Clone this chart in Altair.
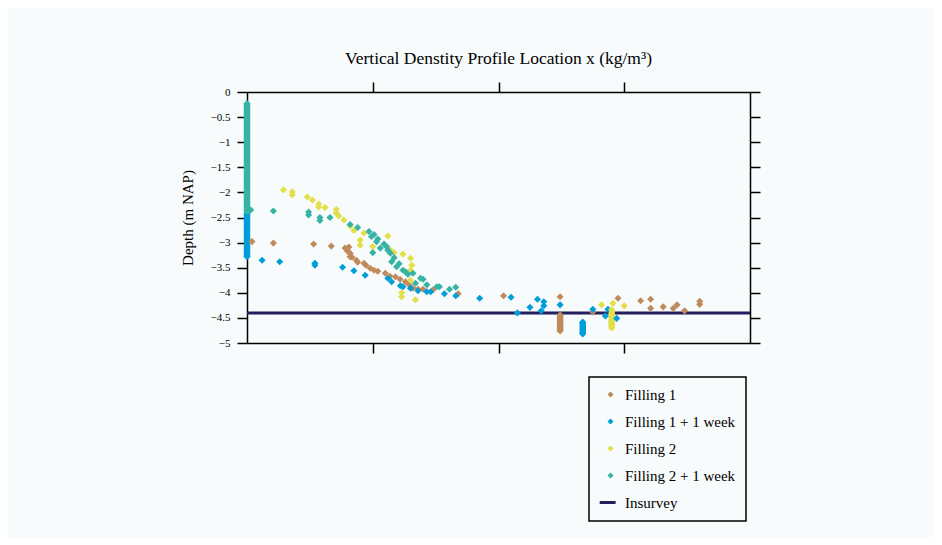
import altair as alt
import pandas as pd

SERIES = ["Filling 1", "Filling 1 + 1 week", "Filling 2", "Filling 2 + 1 week", "Insurvey"]
COLORS = ["#c08b5c", "#009ed8", "#e3df48", "#35b3a4", "#241d5e"]

# Filling 1 (brown)
f1_x = [0.04, 0.21, 0.53, 0.67, 0.78, 0.81, 0.80, 0.82, 0.835, 0.82, 0.87, 0.88, 0.93, 0.946, 0.98,
        1.01, 1.04, 1.10, 1.137, 1.18, 1.217, 1.26, 1.29, 1.32, 1.36, 1.40, 1.48, 1.68, 2.04, 2.49,
        2.75, 2.95, 3.13, 3.21, 3.21, 3.31, 3.39, 3.42, 3.48, 3.60, 3.60]
f1_y = [-2.98, -3.01, -3.03, -3.07, -3.11, -3.09, -3.17, -3.21, -3.29, -3.28, -3.35, -3.39, -3.41, -3.45, -3.51,
        -3.55, -3.57, -3.61, -3.67, -3.68, -3.73, -3.78, -3.84, -3.91, -3.93, -3.93, -3.94, -4.02, -4.06, -4.08,
        -4.38, -4.11, -4.16, -4.13, -4.31, -4.28, -4.31, -4.24, -4.36, -4.17, -4.23]

# Filling 1 + 1 week (blue)
f1w_x = [0.12, 0.26, 0.54, 0.54, 0.76, 0.85, 0.94, 1.12, 1.15, 1.22, 1.24, 1.30, 1.36, 1.43, 1.46,
         1.57, 1.66, 1.85, 2.10, 2.15, 2.25, 2.31, 2.36, 2.36, 2.34, 2.49, 2.75, 2.85, 2.87, 2.94]
f1w_y = [-3.35, -3.38, -3.41, -3.45, -3.49, -3.56, -3.65, -3.71, -3.78, -3.86, -3.88, -3.91, -3.96, -3.98, -3.98,
         -4.02, -4.06, -4.11, -4.09, -4.40, -4.29, -4.13, -4.18, -4.26, -4.36, -4.24, -4.33, -4.46, -4.33, -4.51]

# Filling 2 (yellow)
f2_x = [0.29, 0.36, 0.36, 0.48, 0.52, 0.57, 0.57, 0.62, 0.71, 0.71, 0.73, 0.77, 0.82, 0.85, 0.90, 0.90,
        0.93, 1.12, 1.00, 1.14, 1.17, 1.24, 1.30, 1.31, 1.30, 1.30, 1.23, 1.23, 1.34, 2.82, 2.91, 3.00]
f2_y = [-1.95, -1.99, -2.05, -2.09, -2.15, -2.23, -2.29, -2.30, -2.34, -2.41, -2.47, -2.55, -2.67, -2.76, -2.95, -3.05,
        -2.81, -2.87, -3.08, -3.15, -3.20, -3.23, -3.31, -3.45, -3.55, -3.75, -4.00, -4.08, -4.14, -4.24, -4.21, -4.26]

# Filling 2 + 1 week (teal)
f2w_x = [0.03, 0.21, 0.49, 0.49, 0.58, 0.58, 0.66, 0.82, 0.88, 0.97, 1.01, 0.99, 1.04, 1.03, 1.09, 1.06,
         1.11, 1.00, 1.12, 1.14, 1.17, 1.15, 1.19, 1.21, 1.24, 1.26, 1.28, 1.32, 1.38, 1.40, 1.34, 1.43,
         1.51, 1.53, 1.61, 1.66]
f2w_y = [-2.35, -2.37, -2.39, -2.45, -2.50, -2.56, -2.50, -2.64, -2.70, -2.78, -2.84, -2.88, -2.93, -2.98, -3.03, -3.11,
         -3.08, -3.20, -3.15, -3.21, -3.30, -3.38, -3.48, -3.42, -3.55, -3.58, -3.63, -3.61, -3.71, -3.73, -3.81, -3.84,
         -3.88, -3.88, -3.93, -3.89]

# dense vertical profiles (continuous stacks of measurements)
bar_series = ["Filling 1", "Filling 1 + 1 week", "Filling 1 + 1 week", "Filling 2", "Filling 2 + 1 week"]
bar_x = [2.49, 0.0, 2.67, 2.90, 0.0]
bar_top = [-4.44, -2.42, -4.58, -4.34, -0.23]
bar_bottom = [-4.76, -3.28, -4.82, -4.70, -2.38]

insurvey_depth = -4.40
x_range = [0, 4]
y_range = [-5, 0]
y_ticks = [0, -0.5, -1, -1.5, -2, -2.5, -3, -3.5, -4, -4.5, -5]
x_ticks = [1, 2, 3]

FONT = "Liberation Serif"
BG = "#f7fbfb"
LINE_PATH = "M-3.6,-0.5L1.7,-0.5L1.7,0.5L-3.6,0.5Z"

rows = []
for name, xs_, ys_ in [(SERIES[0], f1_x, f1_y), (SERIES[1], f1w_x, f1w_y),
                       (SERIES[2], f2_x, f2_y), (SERIES[3], f2w_x, f2w_y)]:
    for xv, yv in zip(xs_, ys_):
        rows.append({"series": name, "x": xv, "y": yv})
for s, xv, t, b in zip(bar_series, bar_x, bar_top, bar_bottom):
    rows.append({"series": s, "x": xv, "y": t})
    rows.append({"series": s, "x": xv, "y": b})
pts = pd.DataFrame(rows)
pts["ord"] = pts["series"].map(SERIES.index)
pts = pts.sort_values("ord", kind="stable").reset_index(drop=True)

bars = pd.DataFrame({"series": bar_series, "x": bar_x, "y1": bar_top, "y2": bar_bottom})
bars["ord"] = bars["series"].map(SERIES.index)
bars = bars.sort_values("ord", kind="stable").reset_index(drop=True)

line_df = pd.DataFrame({"x0": [x_range[0]], "x1": [x_range[1]], "y": [insurvey_depth]})

xs = alt.Scale(domain=x_range, nice=False, zero=False)
ys = alt.Scale(domain=y_range, nice=False, zero=False)
color_scale = alt.Scale(domain=SERIES, range=COLORS)
shape_scale = alt.Scale(domain=SERIES, range=["diamond"] * 4 + [LINE_PATH])

legend = alt.Legend(title=None, orient="none", legendX=342, legendY=285,
                    strokeColor="black", padding=10, rowPadding=11, symbolSize=36,
                    symbolStrokeWidth=0, symbolOffset=4, labelOffset=7,
                    labelFont=FONT, labelFontSize=15, labelColor="black")

common_axis = dict(tickSize=10, tickWidth=1.5, domainWidth=1.5, domainColor="black",
                   tickColor="black", grid=False, title=None)

points = alt.Chart(pts).mark_point(filled=True, opacity=1, size=50).encode(
    x=alt.X("x:Q", scale=xs, axis=alt.Axis(orient="bottom", values=x_ticks, labels=False, **common_axis)),
    y=alt.Y("y:Q", scale=ys, axis=alt.Axis(orient="left", values=y_ticks, format="~g",
                                            labelFont=FONT, labelFontSize=11, labelColor="black",
                                            labelPadding=7, tickSize=10, tickWidth=1.5, domainWidth=1.5,
                                            domainColor="black", tickColor="black", grid=False,
                                            title="Depth (m NAP)", titleFont=FONT, titleFontSize=15,
                                            titleFontWeight="normal", titleColor="black", titlePadding=15)),
    color=alt.Color("series:N", scale=color_scale, legend=legend),
    shape=alt.Shape("series:N", scale=shape_scale, legend=legend),
)

insurvey = alt.Chart(line_df).mark_rule(color=COLORS[4], strokeWidth=3).encode(
    x=alt.X("x0:Q", scale=xs, axis=alt.Axis(orient="top", values=x_ticks, labels=False, **common_axis)),
    x2="x1:Q",
    y=alt.Y("y:Q", scale=ys, axis=alt.Axis(orient="right", values=y_ticks, labels=False, **common_axis)),
)

bar_layer = alt.Chart(bars).mark_rule(strokeWidth=6.5, strokeCap="butt").encode(
    x=alt.X("x:Q", scale=xs, axis=None),
    y=alt.Y("y1:Q", scale=ys, axis=None),
    y2="y2:Q",
    color=alt.Color("series:N", scale=color_scale, legend=legend),
)

chart = alt.layer(insurvey, bar_layer, points).resolve_scale(
    x="independent", y="independent"
).properties(
    width=503, height=251,
    title=alt.TitleParams("Vertical Denstity Profile Location x (kg/m³)", font=FONT, fontSize=17.5,
                          fontWeight="normal", color="black", anchor="middle", offset=14),
    padding={"left": 239, "top": 84, "right": 184, "bottom": 194},
    autosize=alt.AutoSizeParams(type="none"),
    background=BG,
).configure_view(stroke=None).configure_legend(strokeWidth=1.5)

chart.save("out.html", embed_options={"renderer": "svg", "actions": False})
